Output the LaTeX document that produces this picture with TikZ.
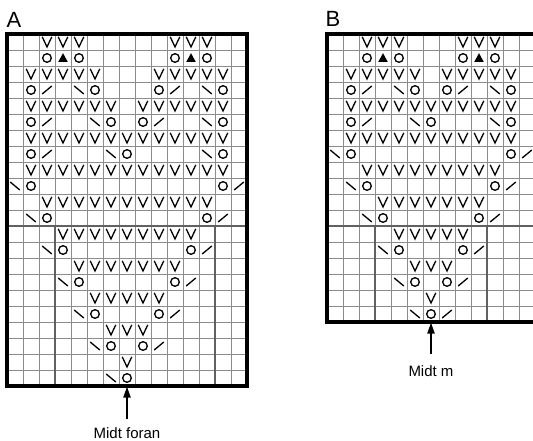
\documentclass[tikz,border=0pt]{standalone}
\usepackage{fontspec}
\setmainfont{Liberation Sans}
\usetikzlibrary{arrows.meta}
\begin{document}
\begin{tikzpicture}[x=1pt,y=-1pt,
  gridthin/.style={draw=black!45, line width=0.9pt},
  gridheavy/.style={draw=black!62, line width=1.8pt},
  chartborder/.style={draw=black, line width=3.2pt, line join=miter},
  symline/.style={draw=black, line width=1.3pt},
  knitV/.pic={\draw[symline, line join=miter] (-4.8,-5.2) -- (0,5) -- (4.8,-5.2);},
  knitO/.pic={\draw[symline] (0,0) circle (4.3pt);},
  knitT/.pic={\fill[black] (-4.8,4) -- (4.8,4) -- (0,-4.8) -- cycle;},
  knitL/.pic={\draw[symline] (-4.8,4) -- (4.8,-4);},
  knitR/.pic={\draw[symline] (-4.8,-4) -- (4.8,4);},
  arrowst/.style={line width=2pt, -{Triangle[length=11pt,width=7pt]}},
  lbl/.style={inner sep=0pt, anchor=base, font=\fontsize{15}{18}\selectfont},
  chartname/.style={inner sep=0pt, anchor=base west, font=\fontsize{22}{26}\selectfont}]
\newcommand\symrow[5]{\foreach \c in {#5}{\pic at ({#1+16*(\c-0.5)},{#2+16*(#3-0.5)}) {#4};}}
\useasboundingbox (0,0) rectangle (533,441);
\clip (0,0) rectangle (533,441);
% ---------------- Chart A ----------------
\foreach \k in {1,...,14} \draw[gridthin] ({7+16*\k},34) -- ({7+16*\k},386);
\foreach \k in {1,...,21} \draw[gridthin] (7,{34+16*\k}) -- (247,{34+16*\k});
\draw[gridheavy] (7,226) -- (247,226);
\draw[gridheavy] (55,226) -- (55,386);
\draw[gridheavy] (215,226) -- (215,386);
\draw[chartborder] (7,34) rectangle (247,386);
\symrow{7}{34}{1}{knitV}{3,4,5,11,12,13}
\symrow{7}{34}{2}{knitO}{3,5,11,13}
\symrow{7}{34}{2}{knitT}{4,12}
\symrow{7}{34}{3}{knitV}{2,3,4,5,6,10,11,12,13,14}
\symrow{7}{34}{4}{knitO}{2,6,10,14}
\symrow{7}{34}{4}{knitL}{3,11}
\symrow{7}{34}{4}{knitR}{5,13}
\symrow{7}{34}{5}{knitV}{2,3,4,5,6,7,9,10,11,12,13,14}
\symrow{7}{34}{6}{knitO}{2,7,9,14}
\symrow{7}{34}{6}{knitL}{3,10}
\symrow{7}{34}{6}{knitR}{6,13}
\symrow{7}{34}{7}{knitV}{2,...,14}
\symrow{7}{34}{8}{knitO}{2,8,14}
\symrow{7}{34}{8}{knitL}{3}
\symrow{7}{34}{8}{knitR}{7,13}
\symrow{7}{34}{9}{knitV}{2,...,14}
\symrow{7}{34}{10}{knitR}{1}
\symrow{7}{34}{10}{knitO}{2,14}
\symrow{7}{34}{10}{knitL}{15}
\symrow{7}{34}{11}{knitV}{3,...,13}
\symrow{7}{34}{12}{knitR}{2}
\symrow{7}{34}{12}{knitO}{3,13}
\symrow{7}{34}{12}{knitL}{14}
\symrow{7}{34}{13}{knitV}{4,...,12}
\symrow{7}{34}{14}{knitR}{3}
\symrow{7}{34}{14}{knitO}{4,12}
\symrow{7}{34}{14}{knitL}{13}
\symrow{7}{34}{15}{knitV}{5,...,11}
\symrow{7}{34}{16}{knitR}{4}
\symrow{7}{34}{16}{knitO}{5,11}
\symrow{7}{34}{16}{knitL}{12}
\symrow{7}{34}{17}{knitV}{6,...,10}
\symrow{7}{34}{18}{knitR}{5}
\symrow{7}{34}{18}{knitO}{6,10}
\symrow{7}{34}{18}{knitL}{11}
\symrow{7}{34}{19}{knitV}{7,8,9}
\symrow{7}{34}{20}{knitR}{6}
\symrow{7}{34}{20}{knitO}{7,9}
\symrow{7}{34}{20}{knitL}{10}
\symrow{7}{34}{21}{knitV}{8}
\symrow{7}{34}{22}{knitR}{7}
\symrow{7}{34}{22}{knitO}{8}
% ---------------- Chart B ----------------
\foreach \k in {1,...,12} \draw[gridthin] ({327+16*\k},34) -- ({327+16*\k},322);
\foreach \k in {1,...,17} \draw[gridthin] (327,{34+16*\k}) -- (535,{34+16*\k});
\draw[gridheavy] (327,226) -- (535,226);
\draw[gridheavy] (375,226) -- (375,322);
\draw[gridheavy] (487,226) -- (487,322);
\draw[chartborder] (327,34) rectangle (535,322);
\symrow{327}{34}{1}{knitV}{3,4,5,9,10,11}
\symrow{327}{34}{2}{knitO}{3,5,9,11}
\symrow{327}{34}{2}{knitT}{4,10}
\symrow{327}{34}{3}{knitV}{2,3,4,5,6,8,9,10,11,12}
\symrow{327}{34}{4}{knitO}{2,6,8,12}
\symrow{327}{34}{4}{knitL}{3,9}
\symrow{327}{34}{4}{knitR}{5,11}
\symrow{327}{34}{5}{knitV}{2,...,12}
\symrow{327}{34}{6}{knitO}{2,7,12}
\symrow{327}{34}{6}{knitL}{3}
\symrow{327}{34}{6}{knitR}{6,11}
\symrow{327}{34}{7}{knitV}{2,...,12}
\symrow{327}{34}{8}{knitR}{1}
\symrow{327}{34}{8}{knitO}{2,12}
\symrow{327}{34}{8}{knitL}{13}
\symrow{327}{34}{9}{knitV}{3,...,11}
\symrow{327}{34}{10}{knitR}{2}
\symrow{327}{34}{10}{knitO}{3,11}
\symrow{327}{34}{10}{knitL}{12}
\symrow{327}{34}{11}{knitV}{4,...,10}
\symrow{327}{34}{12}{knitR}{3}
\symrow{327}{34}{12}{knitO}{4,10}
\symrow{327}{34}{12}{knitL}{11}
\symrow{327}{34}{13}{knitV}{5,...,9}
\symrow{327}{34}{14}{knitR}{4}
\symrow{327}{34}{14}{knitO}{5,9}
\symrow{327}{34}{14}{knitL}{10}
\symrow{327}{34}{15}{knitV}{6,7,8}
\symrow{327}{34}{16}{knitR}{5}
\symrow{327}{34}{16}{knitO}{6,8}
\symrow{327}{34}{16}{knitL}{9}
\symrow{327}{34}{17}{knitV}{7}
\symrow{327}{34}{18}{knitR}{6}
\symrow{327}{34}{18}{knitO}{7}
\symrow{327}{34}{18}{knitL}{8}
% ---------------- Titles, labels, arrows ----------------
\node[chartname] (titleA) at (6.5,28) {A};
\node[chartname] (titleB) at (325.5,27) {B};
\node[lbl] (labA) at (127,438) {Midt foran};
\node[lbl] (labB) at (431,376.5) {Midt m};
\coordinate (tailA) at (127,419);
\coordinate (headA) at (127,386.5);
\coordinate (tailB) at (431,354);
\coordinate (headB) at (431,322.5);
\draw[arrowst] (tailA) -- (headA);
\draw[arrowst] (tailB) -- (headB);
\end{tikzpicture}
\end{document}
